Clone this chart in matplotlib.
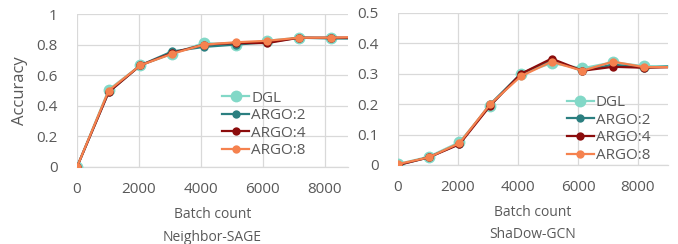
import matplotlib
matplotlib.use("Agg")
import matplotlib.pyplot as plt

plt.rcParams['font.family'] = ['Open Sans', 'DejaVu Sans']

batches = [0, 1024, 2048, 3072, 4096, 5120, 6144, 7168, 8192, 9216]
series_names = ["DGL", "ARGO:2", "ARGO:4", "ARGO:8"]

sage_dgl = [0.0, 0.505, 0.665, 0.74, 0.81, 0.80, 0.825, 0.845, 0.845, 0.84]
sage_argo2 = [0.0, 0.49, 0.665, 0.755, 0.785, 0.80, 0.815, 0.845, 0.84, 0.84]
sage_argo4 = [0.0, 0.49, 0.665, 0.745, 0.80, 0.81, 0.81, 0.845, 0.845, 0.845]
sage_argo8 = [0.0, 0.50, 0.665, 0.74, 0.80, 0.815, 0.825, 0.845, 0.845, 0.85]

gcn_dgl = [0.003, 0.027, 0.075, 0.195, 0.30, 0.335, 0.318, 0.338, 0.325, 0.325]
gcn_argo2 = [0.0, 0.025, 0.07, 0.20, 0.30, 0.345, 0.31, 0.33, 0.32, 0.325]
gcn_argo4 = [0.0, 0.025, 0.068, 0.195, 0.30, 0.35, 0.31, 0.323, 0.32, 0.322]
gcn_argo8 = [0.003, 0.025, 0.072, 0.20, 0.292, 0.34, 0.31, 0.34, 0.322, 0.322]

x_ticks = [0, 2000, 4000, 6000, 8000]
sage_yticks = [0, 0.2, 0.4, 0.6, 0.8, 1.0]
sage_yticklabels = ["0", "0.2", "0.4", "0.6", "0.8", "1"]
gcn_yticks = [0, 0.1, 0.2, 0.3, 0.4, 0.5]
gcn_yticklabels = ["0", "0.1", "0.2", "0.3", "0.4", "0.5"]

colors = ["#82d8c7", "#2b7f80", "#8b0c0c", "#f5824f"]
msizes = [8.5, 6, 6, 6]
text_color = "#595959"
grid_color = "#d9d9d9"

W, H = 678, 244
fig = plt.figure(figsize=(W / 100, H / 100), dpi=100)

def make_axes(l, t, r, b):
    return fig.add_axes([l / W, 1 - b / H, (r - l) / W, (b - t) / H])

ax1 = make_axes(77, 14, 348, 167)
ax2 = make_axes(398, 13, 668, 165)

panels = [
    (ax1, [sage_dgl, sage_argo2, sage_argo4, sage_argo8], (0, 8750), (0, 1.0),
     sage_yticks, sage_yticklabels, "Neighbor-SAGE", (0.535, 0.50)),
    (ax2, [gcn_dgl, gcn_argo2, gcn_argo4, gcn_argo8], (0, 9000), (0, 0.5),
     gcn_yticks, gcn_yticklabels, "ShaDow-GCN", (0.625, 0.46)),
]

for ax, data, xl, yl, yt, ytl, title, legpos in panels:
    for name, vals, c, ms in zip(series_names, data, colors, msizes):
        ax.plot(batches, vals, color=c, lw=1.6, marker='o', ms=ms,
                markeredgewidth=0, label=name, clip_on=True, zorder=3)
    ax.set_xlim(*xl)
    ax.set_ylim(*yl)
    ax.set_xticks(x_ticks)
    ax.set_yticks(yt)
    ax.set_yticklabels(ytl)
    ax.grid(True, color=grid_color, lw=0.9, zorder=0)
    for s in ['top', 'right', 'left']:
        ax.spines[s].set_visible(False)
    ax.spines['bottom'].set_color(grid_color)
    ax.spines['bottom'].set_linewidth(0.9)
    ax.tick_params(axis='both', length=0, colors=text_color, labelsize=11)
    ax.tick_params(axis='y', pad=14)
    ax.tick_params(axis='x', pad=11)
    ax.set_xlabel("Batch count", color=text_color, fontsize=10, labelpad=7)
    ax.text(0.5, -0.46, title, transform=ax.transAxes, ha='center', va='center',
            color=text_color, fontsize=10)
    leg = ax.legend(loc='upper left', bbox_to_anchor=legpos, frameon=False,
                    fontsize=11, handlelength=1.8, handletextpad=0.1,
                    labelspacing=0.17, borderpad=0, borderaxespad=0)
    for t in leg.get_texts():
        t.set_color(text_color)
    for sp in ax.spines.values():
        sp.set_zorder(1)

ax1.set_ylabel("Accuracy", color=text_color, fontsize=12, labelpad=6)

fig.savefig("out.png", dpi=100)
